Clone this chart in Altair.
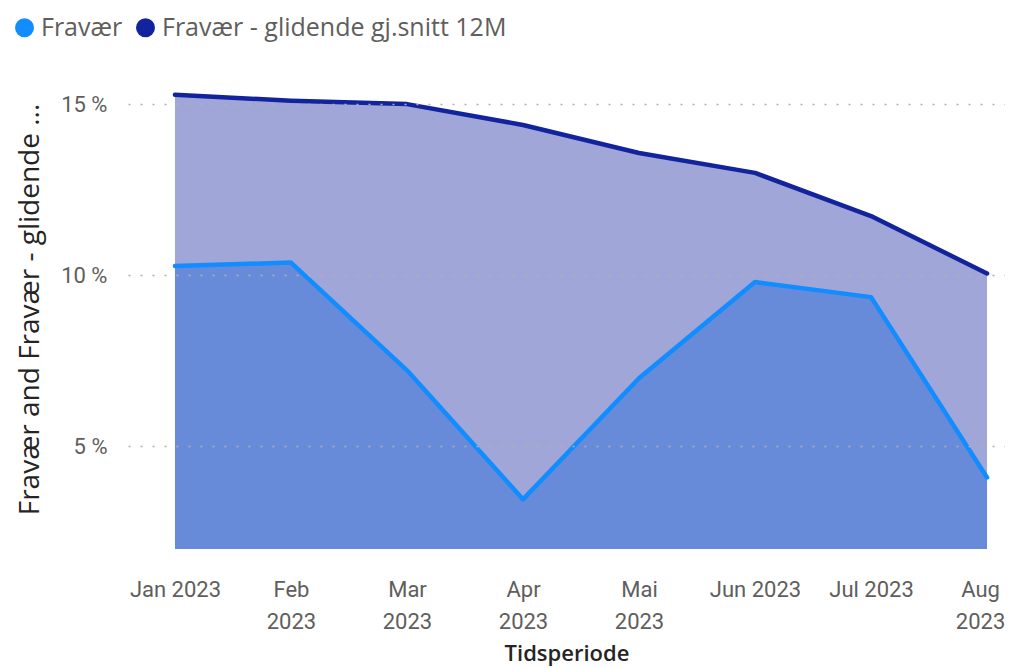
import json
import altair as alt
import pandas as pd

months = ["Jan 2023", "Feb 2023", "Mar 2023", "Apr 2023", "Mai 2023", "Jun 2023", "Jul 2023", "Aug 2023"]
month_labels = [["Jan 2023"], ["Feb", "2023"], ["Mar", "2023"], ["Apr", "2023"], ["Mai", "2023"],
                ["Jun 2023"], ["Jul 2023"], ["Aug", "2023"]]
fravaer = [10.27, 10.37, 7.22, 3.45, 6.99, 9.80, 9.36, 4.09]
glidende = [15.27, 15.10, 15.00, 14.39, 13.57, 12.99, 11.73, 10.05]
series = ["Fravær", "Fravær - glidende gj.snitt 12M"]
colors = ["#118DFF", "#12239E"]
y_ticks = [5, 10, 15]

rows = []
for i, m in enumerate(months):
    rows.append({"idx": i, "month": m, "serie": series[0], "value": fravaer[i]})
    rows.append({"idx": i, "month": m, "serie": series[1], "value": glidende[i]})
df = pd.DataFrame(rows)

label_expr = json.dumps(month_labels) + "[datum.value]"
last_idx = len(months) - 1

x_enc = alt.X(
    "idx:Q",
    scale=alt.Scale(domain=[-0.405, 7.155], nice=False, zero=False),
    axis=alt.Axis(
        values=list(range(len(months))),
        labelExpr=label_expr,
        labelOverlap=False,
        labelFlush=False,
        grid=False,
        ticks=False,
        domain=False,
        labelFont="Roboto",
        labelFontSize=22,
        labelColor="#605E5C",
        labelLineHeight=32,
        labelPadding=40,
        labelBaseline="middle",
        labelOffset={"condition": {"test": f"datum.value == {last_idx}", "value": -7}, "value": 0},
        title="Tidsperiode",
        titleFont="Open Sans",
        titleFontSize=22,
        titleFontWeight=600,
        titleColor="#252423",
        titlePadding=11,
    ),
)
y_enc = alt.Y(
    "value:Q",
    scale=alt.Scale(domain=[2, 15.5], nice=False, zero=False),
    axis=alt.Axis(
        values=y_ticks,
        labelExpr="datum.value + ' %'",
        grid=True,
        gridDash=[2, 10],
        gridColor="#B3B0AD",
        gridWidth=1.5,
        ticks=False,
        domain=False,
        labelFont="Roboto",
        labelFontSize=22,
        labelColor="#605E5C",
        labelPadding=21,
        title="Fravær and Fravær - glidende ...",
        titleFont="Open Sans",
        titleFontSize=28,
        titleFontWeight="normal",
        titleColor="#252423",
        titlePadding=16,
        titleY=222,
        zindex=1,
    ),
)
color_enc = alt.Color(
    "serie:N",
    scale=alt.Scale(domain=series, range=colors),
    legend=alt.Legend(
        orient="none",
        legendX=-116,
        legendY=-72,
        direction="horizontal",
        title=None,
        symbolType="circle",
        symbolSize=360,
        symbolStrokeWidth=0,
        symbolOpacity=1,
        labelFont="Open Sans",
        labelFontSize=25,
        labelColor="#605E5C",
        labelLimit=500,
        labelOffset=4,
        columnPadding=10,
    ),
)

base = alt.Chart(df)
area_light = base.transform_filter(alt.datum.serie == series[0]).mark_area(
    color=colors[0], opacity=0.4, clip=True
).encode(x=x_enc, y=y_enc)
area_dark = base.transform_filter(alt.datum.serie == series[1]).mark_area(
    color=colors[1], opacity=0.4, clip=True
).encode(x=x_enc, y=y_enc)
line_light = base.transform_filter(alt.datum.serie == series[0]).mark_line(
    color=colors[0], strokeWidth=4.5, strokeCap="round", strokeJoin="round"
).encode(x=x_enc, y=y_enc)
line_dark = base.transform_filter(alt.datum.serie == series[1]).mark_line(
    color=colors[1], strokeWidth=4.5, strokeCap="round", strokeJoin="round"
).encode(x=x_enc, y=y_enc)
legend_pts = base.mark_point(filled=True, opacity=0).encode(x=x_enc, y=y_enc, color=color_enc)

chart = alt.layer(area_light, area_dark, line_light, line_dark, legend_pts).properties(
    width=877,
    height=462,
    autosize=alt.AutoSizeParams(type="none"),
    padding={"left": 120, "top": 79, "right": 0, "bottom": 119},
).configure_view(stroke=None)

chart.save("out.html", embed_options={"renderer": "svg", "actions": False})
